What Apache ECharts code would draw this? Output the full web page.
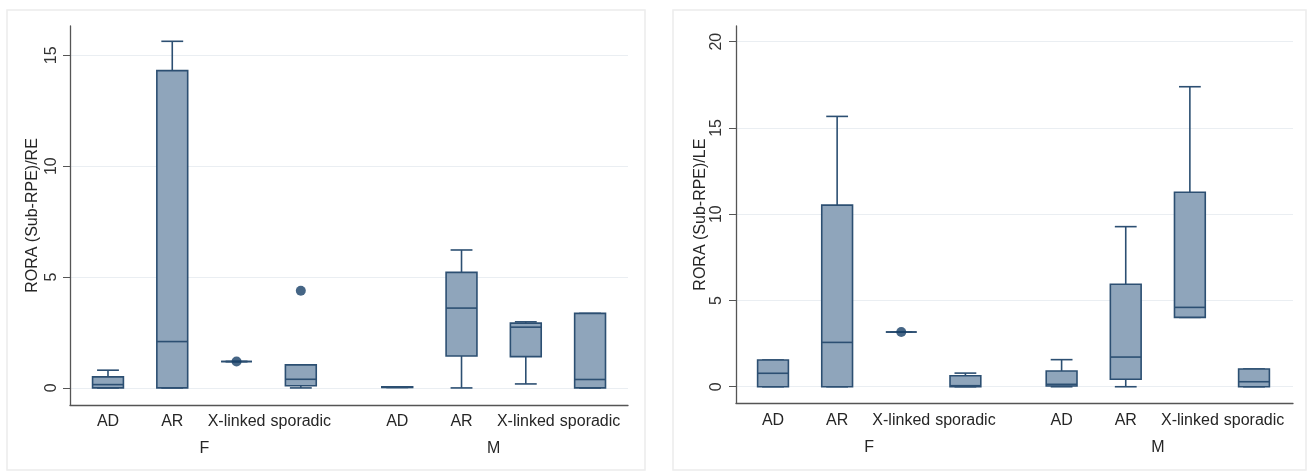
<!DOCTYPE html>
<html>
<head>
<meta charset="utf-8">
<script src="https://cdn.jsdelivr.net/npm/echarts@6/dist/echarts.min.js"></script>
<style>
  html, body { margin: 0; padding: 0; background: #ffffff; }
  #chart { width: 1307px; height: 472px; }
</style>
</head>
<body>
<div id="chart"></div>
<script>
// Groups (sex) and inheritance types shown under each box
const groups = ['F', 'M'];
const types = ['AD', 'AR', 'X-linked', 'sporadic'];

// Box statistics per group/type: [min, Q1, median, Q3, max]
const reStats = [
  [0, 0, 0.15, 0.5, 0.8],
  [0, 0, 2.09, 14.31, 15.63],
  [1.19, 1.19, 1.19, 1.19, 1.19],
  [0, 0.1, 0.39, 1.04, 1.04],
  [0.02, 0.02, 0.03, 0.05, 0.05],
  [0, 1.44, 3.6, 5.21, 6.22],
  [0.18, 1.41, 2.74, 2.92, 2.98],
  [0, 0, 0.38, 3.36, 3.36]
];
// Single points: [box index, value]
const reDots = [[2, 1.19], [3, 4.38]];

const leStats = [
  [0, 0, 0.78, 1.55, 1.55],
  [0, 0, 2.57, 10.53, 15.67],
  [3.17, 3.17, 3.17, 3.17, 3.17],
  [0, 0, 0.06, 0.64, 0.79],
  [0, 0.04, 0.14, 0.91, 1.57],
  [0, 0.43, 1.72, 5.94, 9.28],
  [4.02, 4.02, 4.6, 11.27, 17.39],
  [0, 0, 0.29, 1.03, 1.03]
];
const leDots = [[2, 3.17]];

const reTicks = [0, 5, 10, 15];
const leTicks = [0, 5, 10, 15, 20];

const yTitles = ['RORA (Sub-RPE)/RE', 'RORA (Sub-RPE)/LE'];

// x position of a box: types spaced by 1, groups separated by an extra half step
function slotX(i) {
  const g = Math.floor(i / types.length);
  const t = i % types.length;
  return 1 + g * (types.length + 0.5) + t;
}
const slotCount = types.length * groups.length;
const catPositions = [];
const catNames = {};
for (let i = 0; i < slotCount; i++) {
  const x = slotX(i);
  catPositions.push(x);
  catNames[x] = types[i % types.length];
}
const groupPositions = groups.map((g, gi) => (slotX(gi * types.length) + slotX(gi * types.length + types.length - 1)) / 2);
const groupNames = {};
groups.forEach((g, gi) => { groupNames[groupPositions[gi]] = g; });

const BOX_W = 0.48;
const CAP_W = 0.34;
const STROKE = '#2c4f72';
const FILL = '#8fa5bb';
const DOT = '#163e66';
const FONT = 'Liberation Sans, Arial, sans-serif';
const TEXT = '#262626';

function boxRender(params, api) {
  const x = api.value(0);
  const lo = api.value(1), q1 = api.value(2), med = api.value(3), q3 = api.value(4), hi = api.value(5);
  const bw = api.size([BOX_W, 0])[0];
  const cw = api.size([CAP_W, 0])[0];
  const pLo = api.coord([x, lo]);
  const pQ1 = api.coord([x, q1]);
  const pMed = api.coord([x, med]);
  const pQ3 = api.coord([x, q3]);
  const pHi = api.coord([x, hi]);
  const cx = pMed[0];
  const lineStyle = { stroke: STROKE, lineWidth: 1.6 };
  const children = [];
  // whiskers and caps
  children.push({ type: 'line', shape: { x1: cx, y1: pQ3[1], x2: cx, y2: pHi[1] }, style: lineStyle });
  children.push({ type: 'line', shape: { x1: cx - cw / 2, y1: pHi[1], x2: cx + cw / 2, y2: pHi[1] }, style: lineStyle });
  children.push({ type: 'line', shape: { x1: cx, y1: pQ1[1], x2: cx, y2: pLo[1] }, style: lineStyle });
  children.push({ type: 'line', shape: { x1: cx - cw / 2, y1: pLo[1], x2: cx + cw / 2, y2: pLo[1] }, style: lineStyle });
  // box
  children.push({
    type: 'rect',
    shape: { x: cx - bw / 2, y: pQ3[1], width: bw, height: pQ1[1] - pQ3[1] },
    style: { fill: FILL, stroke: STROKE, lineWidth: 1.6 }
  });
  // median
  children.push({ type: 'line', shape: { x1: cx - bw / 2, y1: pMed[1], x2: cx + bw / 2, y2: pMed[1] }, style: lineStyle });
  return { type: 'group', children: children };
}

function boxData(stats) {
  return stats.map((s, i) => [slotX(i)].concat(s));
}
function dotData(dots) {
  return dots.map(d => [slotX(d[0]), d[1]]);
}

const grids = [
  { left: 70, right: 679, top: 26, bottom: 67 },
  { left: 736, right: 14, top: 26, bottom: 68.7 }
];
const xRanges = [[0.409, 9.09], [0.423, 9.108]];
const yRanges = [[-0.77, 16.32], [-0.96, 20.91]];
const yTickSets = [reTicks, leTicks];
const nameGaps = [29, 26];
const labelMargins = [10, 11];

const xAxes = [];
const yAxes = [];
grids.forEach((g, gi) => {
  xAxes.push({
    type: 'value', gridIndex: gi, min: xRanges[gi][0], max: xRanges[gi][1],
    position: 'bottom',
    axisLine: { show: true, onZero: false, lineStyle: { color: '#555555', width: 1.3 } },
    axisTick: { show: false },
    splitLine: { show: false },
    axisLabel: {
      customValues: catPositions, margin: 9,
      formatter: v => catNames[v] || '',
      color: TEXT, fontSize: 16, fontFamily: FONT
    }
  });
  xAxes.push({
    type: 'value', gridIndex: gi, min: xRanges[gi][0], max: xRanges[gi][1],
    position: 'bottom', offset: 26,
    axisLine: { show: false }, axisTick: { show: false }, splitLine: { show: false },
    axisLabel: {
      customValues: groupPositions, margin: 10,
      formatter: v => groupNames[v] || '',
      color: TEXT, fontSize: 16, fontFamily: FONT
    }
  });
  yAxes.push({
    type: 'value', gridIndex: gi, min: yRanges[gi][0], max: yRanges[gi][1],
    name: yTitles[gi], nameLocation: 'middle', nameGap: nameGaps[gi],
    nameTextStyle: { color: TEXT, fontSize: 16, fontFamily: FONT },
    axisLine: { show: true, lineStyle: { color: '#555555', width: 1.3 } },
    axisTick: { show: true, customValues: yTickSets[gi], length: 7, lineStyle: { color: '#555555' } },
    axisLabel: {
      customValues: yTickSets[gi], rotate: 90, margin: labelMargins[gi],
      color: '#333333', fontSize: 16, fontFamily: FONT
    },
    splitLine: { show: true, lineStyle: { color: '#eaeef2', width: 1.2 } }
  });
});

const series = [];
[[reStats, reDots], [leStats, leDots]].forEach((pair, gi) => {
  series.push({
    type: 'custom', xAxisIndex: gi * 2, yAxisIndex: gi,
    renderItem: boxRender,
    encode: { x: 0, y: [1, 2, 3, 4, 5] },
    data: boxData(pair[0]),
    z: 3
  });
  series.push({
    type: 'scatter', xAxisIndex: gi * 2, yAxisIndex: gi,
    symbol: 'circle', symbolSize: 10,
    itemStyle: { color: DOT },
    data: dotData(pair[1]),
    z: 4
  });
});

const chart = echarts.init(document.getElementById('chart'), null, { renderer: 'canvas' });
chart.setOption({
  backgroundColor: '#ffffff',
  animation: false,
  graphic: [
    { type: 'rect', shape: { x: 7, y: 10, width: 638, height: 460 }, style: { fill: 'none', stroke: '#ececec', lineWidth: 1.5 }, z: 0 },
    { type: 'rect', shape: { x: 673, y: 10, width: 633, height: 460 }, style: { fill: 'none', stroke: '#ececec', lineWidth: 1.5 }, z: 0 }
  ],
  grid: grids,
  xAxis: xAxes,
  yAxis: yAxes,
  series: series
});
</script>
</body>
</html>
